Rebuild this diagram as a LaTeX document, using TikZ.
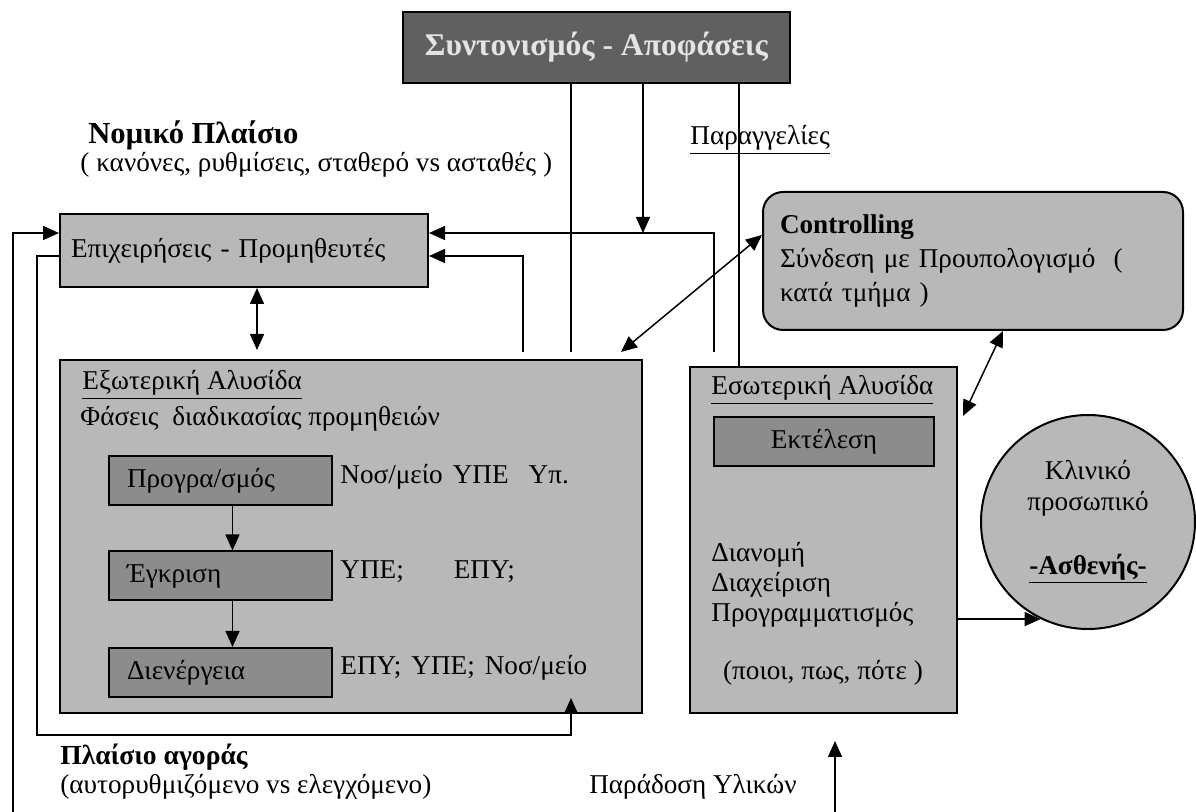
\documentclass[tikz,border=0pt]{standalone}
\usepackage{fontspec}
\setmainfont{Liberation Serif}
\usetikzlibrary{arrows.meta}
\definecolor{topgray}{RGB}{96,96,96}
\definecolor{toptext}{RGB}{228,228,228}
\definecolor{boxgray}{RGB}{184,184,184}
\definecolor{phasegray}{RGB}{140,140,140}
\tikzset{
	box/.style={rectangle,draw,line width=1pt,fill=boxgray,inner sep=0pt},
	phasebox/.style={box,fill=phasegray,minimum height=24.5pt,text width=93.5pt,inner xsep=9pt,align=left},
	lbl/.style={inner sep=0pt,anchor=west},
	arr/.style={-{Triangle[length=8pt,width=7pt]},line width=0.75pt},
	darr/.style={{Triangle[length=8pt,width=7pt]}-{Triangle[length=8pt,width=7pt]},line width=0.75pt}
}
\begin{document}
\begin{tikzpicture}[x=0.5pt,y=-0.5pt,font=\fontsize{13.6}{15.5}\selectfont]
	\useasboundingbox (0,0) rectangle (1196,812);
	\node [box,fill=topgray,line width=1.2pt,minimum width=193.5pt,minimum height=35.5pt,text=toptext,font=\fontsize{15.8}{18}\selectfont\bfseries] (top) at (596.5,47.5) {Συντονισμός - Αποφάσεις};
	\node [lbl,font=\fontsize{15.3}{17}\selectfont\bfseries] (law) at (88,135) {Νομικό Πλαίσιο};
	\node [lbl] (lawsub) at (80,165) {( κανόνες, ρυθμίσεις, σταθερό vs ασταθές )};
	\node [lbl] (orders) at (690,140) {\underline{Παραγγελίες}};
	\node [box,minimum height=36.5pt,text width=173pt,inner xsep=5.5pt,align=left] (firms) at (244,250.5) {Επιχειρήσεις - Προμηθευτές};
	\node [box,rounded corners=10pt,minimum height=69pt,text width=193pt,inner xsep=8.5pt,align=left,font=\fontsize{13.6}{17}\selectfont] (ctrl) at (973,261) {\textbf{Controlling}\\Σύνδεση με Προυπολογισμό\ \ (\\κατά τμήμα )};

	\node [box,minimum width=291pt,minimum height=176.5pt] (ext) at (351,536.5) {};
	\node [lbl] (extt) at (82,385) {\underline{Εξωτερική Αλυσίδα}};
	\node [lbl] (phases) at (80,419) {Φάσεις\ \ διαδικασίας προμηθειών};
	\node [phasebox] (plan) at (220.5,480.5) {Προγρα/σμός};
	\node [phasebox] (appr) at (220.5,576) {Έγκριση};
	\node [phasebox] (exec) at (220.5,672.5) {Διενέργεια};
	\node [lbl] (planby) at (340,477) {Νοσ/μείο\hspace{5pt}ΥΠΕ\hspace{10pt}Υπ.};
	\node [lbl] (apprby) at (340,572) {ΥΠΕ;\hspace{25pt}ΕΠΥ;};
	\node [lbl] (execby) at (340,668) {ΕΠΥ;\hspace{5pt}ΥΠΕ;\hspace{5pt}Νοσ/μείο};

	\node [box,minimum width=133.5pt,minimum height=173pt] (int) at (823.5,540) {};
	\node [lbl] (intt) at (711,390) {\underline{Εσωτερική Αλυσίδα}};
	\node [box,fill=phasegray,minimum width=110pt,minimum height=24.5pt] (run) at (824,441.5) {Εκτέλεση};
	\node [lbl,align=left,font=\fontsize{13.6}{15}\selectfont] (tasks) at (711,585) {Διανομή\\Διαχείριση\\Προγραμματισμός};
	\node [inner sep=0pt] (when) at (823,673) {(ποιοι, πως, πότε )};

	\node [circle,draw,line width=1pt,fill=boxgray,minimum size=107pt,inner sep=0pt,align=center] (clin) at (1088,522) {Κλινικό\\προσωπικό\\[16.5pt]\underline{\textbf{-Ασθενής-}}};

	\node [lbl,font=\fontsize{13.8}{17}\selectfont\bfseries] (market) at (60,757) {Πλαίσιο αγοράς};
	\node [lbl] (marketsub) at (60,787) {(αυτορυθμιζόμενο vs ελεγχόμενο)};
	\node [inner sep=0pt,anchor=east] (dlvt) at (797,787) {Παράδοση Υλικών};

	\coordinate (v1) at (571,0);
	\coordinate (v2) at (643,0);
	\coordinate (v3) at (739,0);
	\coordinate (jn) at (714,233);
	\coordinate (kn) at (523,256);
	\coordinate (lA) at (13,812);
	\coordinate (lB) at (37,735);
	\coordinate (mk) at (571,698);
	\coordinate (dlv) at (835,812);

	\draw [line width=0.75pt,shorten >=3.5pt] (top.south -| v1) -- (ext.north -| v1);
	\draw [arr] (top.south -| v2) -- (v2 |- jn);
	\draw [line width=0.75pt] (top.south -| v3) -- (int.north -| v3);
	\draw [arr,shorten <=3.5pt] (ext.north -| jn) -- (jn) -- (firms.east |- jn);
	\draw [arr,shorten <=3.5pt] (ext.north -| kn) -- (kn) -- (firms.east |- kn);
	\draw [darr,shorten >=4.5pt] ([xshift=6.5pt]firms.south) -- ([xshift=6.5pt]firms.south |- ext.north);
	\draw [darr] ([xshift=-11pt,yshift=3.5pt]ext.north east) -- ([yshift=13pt]ctrl.west);
	\draw [darr] ([xshift=2.5pt,yshift=-25pt]int.north east) -- ([xshift=15pt]ctrl.south);
	\draw [arr] (int.east |- clin.244) -- (clin.244);
	\draw [arr,shorten >=13.5pt] (dlv) -- (int.south -| dlv);
	\draw [arr] (lA) |- (firms.west |- jn);
	\draw [arr] (firms.west |- kn) -| (lB) -| (mk);
	\draw [arr] ([xshift=6pt]plan.south) -- ([xshift=6pt]appr.north);
	\draw [arr] ([xshift=6pt]appr.south) -- ([xshift=6pt]exec.north);
\end{tikzpicture}
\end{document}
